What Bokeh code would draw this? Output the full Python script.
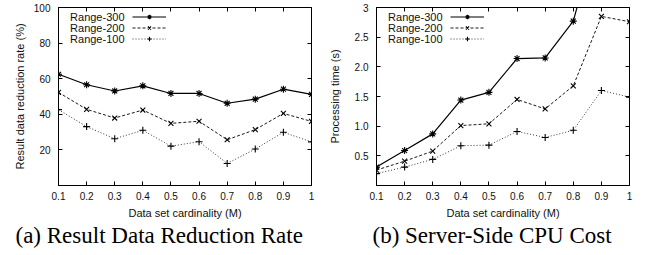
from bokeh.plotting import figure
from bokeh.models import (FixedTicker, LinearAxis, Range1d, Legend, LegendItem, Label, Title)
from bokeh.layouts import row
from bokeh.embed import file_html
from bokeh.resources import INLINE

# ---------------- data ----------------
cardinality = [0.1, 0.2, 0.3, 0.4, 0.5, 0.6, 0.7, 0.8, 0.9, 1]
x_ticks = [0.1, 0.2, 0.3, 0.4, 0.5, 0.6, 0.7, 0.8, 0.9, 1]

# (a) result data reduction rate (%)
rate_300 = [62.5, 56.6, 53.1, 56.0, 51.7, 51.7, 46.2, 48.5, 54.1, 51.2]
rate_200 = [52.3, 42.8, 37.9, 42.4, 34.9, 36.1, 25.7, 31.4, 40.5, 36.0]
rate_100 = [42.6, 33.1, 26.3, 31.0, 22.1, 24.6, 12.4, 20.5, 29.9, 24.5]
rate_ticks = [20, 40, 60, 80, 100]

# (b) server-side CPU cost (s)
time_300 = [0.31, 0.59, 0.87, 1.44, 1.57, 2.14, 2.15, 2.77, 4.5, 5.0]
time_200 = [0.26, 0.41, 0.58, 1.01, 1.04, 1.45, 1.29, 1.68, 2.85, 2.76]
time_100 = [0.20, 0.31, 0.44, 0.67, 0.68, 0.91, 0.81, 0.93, 1.60, 1.49]
time_ticks = [0.5, 1.0, 1.5, 2.0, 2.5, 3]
time_tick_labels = {1: "1.0", 2: "2.0", 3: "3"}

series_names = ["Range-300", "Range-200", "Range-100"]

SANS = "Liberation Sans"
SERIF = "Liberation Serif"
FW, FH = 253, 178


def style_axis(ax, ticks, overrides=None, show_labels=True, standoff=7):
    ax.ticker = FixedTicker(ticks=ticks)
    ax.major_tick_in = 4
    ax.major_tick_out = 0
    ax.minor_tick_line_color = None
    ax.major_tick_line_color = "black"
    ax.axis_line_color = "black"
    ax.major_label_text_font = SANS
    if show_labels:
        ax.major_label_text_color = "#111111"
        ax.major_label_text_font_size = "10px"
        ax.major_label_standoff = standoff
    else:
        ax.major_label_text_color = None
        ax.major_label_text_font_size = "1px"
        ax.major_label_standoff = 0
    if overrides:
        ax.major_label_overrides = overrides
    ax.axis_label_text_font = SANS
    ax.axis_label_text_font_size = "11px"
    ax.axis_label_text_font_style = "normal"
    ax.axis_label_text_color = "#111111"


def make_panel(ys, y_range, y_ticks, y_over, ylabel, caption, bl, br, cap_off, ylab_standoff):
    p = figure(frame_width=FW, frame_height=FH, output_backend="svg",
               toolbar_location=None, x_range=Range1d(0.1, 1), y_range=y_range,
               min_border_left=bl, min_border_right=br, min_border_top=7,
               min_border_bottom=70)
    p.grid.visible = False
    p.outline_line_color = "black"
    p.outline_line_width = 1
    p.background_fill_color = "white"
    p.border_fill_color = "white"

    style_axis(p.xaxis[0], x_ticks, {1: "1"}, standoff=6)
    p.xaxis[0].axis_label = "Data set cardinality (M)"
    p.xaxis[0].axis_label_standoff = 4
    style_axis(p.yaxis[0], y_ticks, y_over, standoff=8)
    p.yaxis[0].axis_label = ylabel
    p.yaxis[0].axis_label_standoff = ylab_standoff

    top = LinearAxis()
    style_axis(top, x_ticks, show_labels=False)
    top.axis_line_color = None
    p.add_layout(top, "above")
    right = LinearAxis()
    style_axis(right, y_ticks, show_labels=False)
    right.axis_line_color = None
    p.add_layout(right, "right")

    styles = [
        dict(marker="asterisk", dash="solid", color="black", width=1.2),
        dict(marker="x", dash="3 2", color="#1a1a1a", width=1),
        dict(marker="cross", dash="1 2", color="#3a3a3a", width=1),
    ]
    items = []
    for vals, st, name in zip(ys, styles, series_names):
        ln = p.line(cardinality, vals, line_color=st["color"], line_width=st["width"],
                    line_dash=st["dash"])
        sc = p.scatter(cardinality, vals, marker=st["marker"], size=7,
                       line_color="black", line_width=1.1, fill_color=None)
        items.append(LegendItem(label=" ", renderers=[ln, sc]))

    leg = Legend(items=items, location=(74, FH - 3.5 - 33), padding=0, margin=0,
                 spacing=0, glyph_width=34, glyph_height=11, label_height=11,
                 label_width=0, label_standoff=0, border_line_color=None,
                 background_fill_alpha=0, label_text_font_size="1px",
                 label_text_color=None)
    p.add_layout(leg, "center")
    for i, name in enumerate(series_names):
        p.add_layout(Label(x=66, y=FH - 9 - 11 * i, x_units="screen", y_units="screen",
                           text=name, text_align="right", text_baseline="middle",
                           text_font=SANS, text_font_size="11px", text_color="#111111"))
    cap = Title(text=caption, align="left", offset=cap_off, vertical_align="middle",
                text_font=SERIF, text_font_size="23px", text_font_style="normal",
                text_color="black", standoff=0)
    p.add_layout(cap, "below")
    return p


p1 = make_panel([rate_300, rate_200, rate_100], Range1d(0, 100), rate_ticks, None,
                "Result data reduction rate (%)", "(a) Result Data Reduction Rate",
                58, 14, -43, 5)
p2 = make_panel([time_300, time_200, time_100], Range1d(0, 3), time_ticks, time_tick_labels,
                "Processing time (s)", "(b) Server-Side CPU Cost",
                49, 23, -4, 11)

layout = row(p1, p2)
open("out.html", "w").write(file_html(layout, INLINE))
